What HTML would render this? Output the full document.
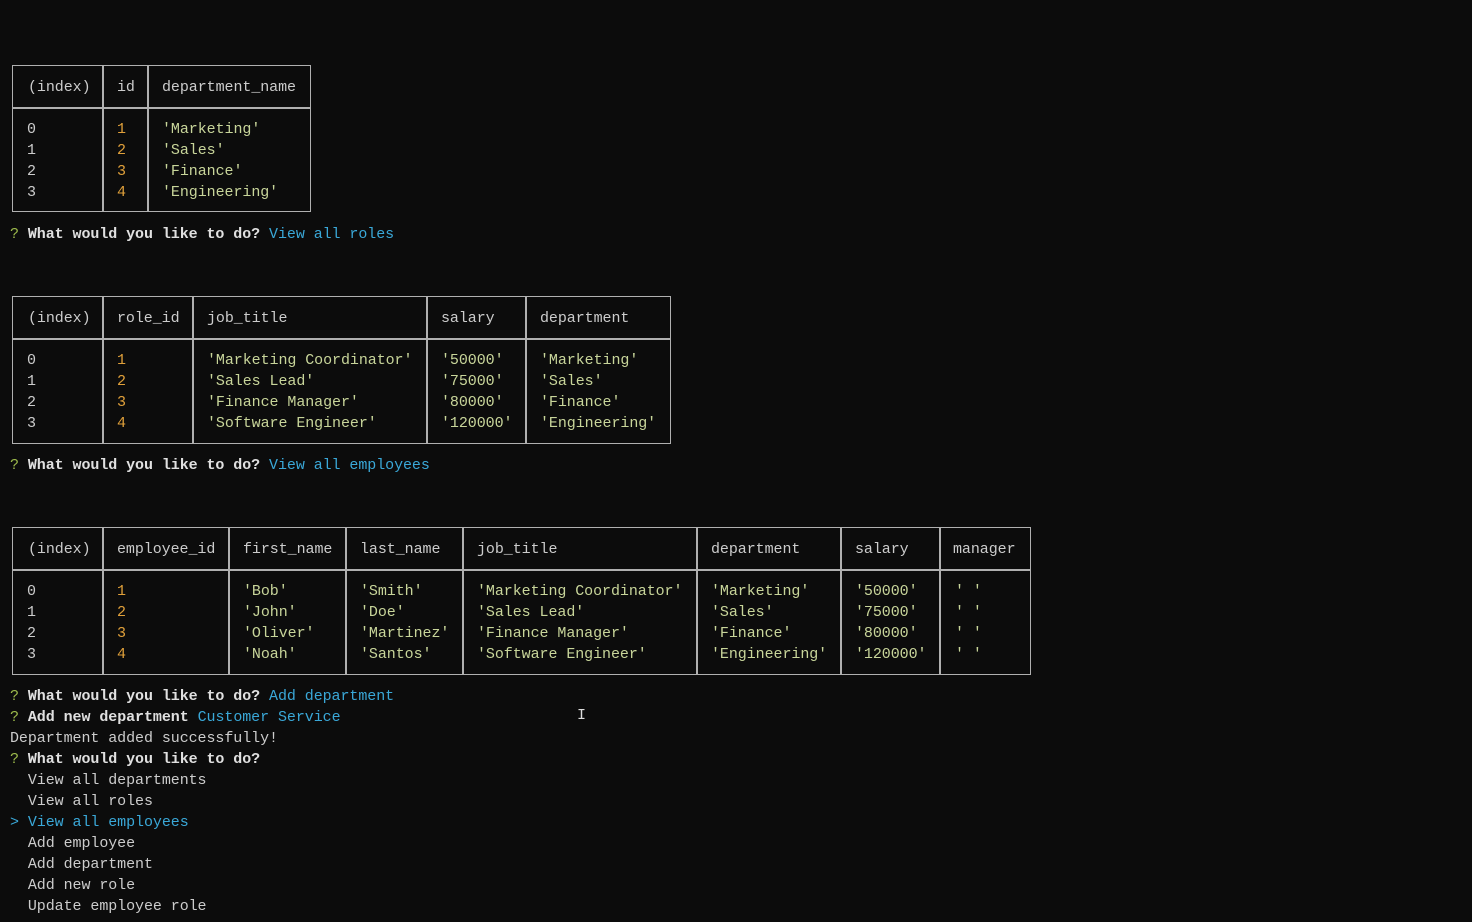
<!DOCTYPE html>
<html><head><meta charset="utf-8"><style>
body{margin:0;width:1472px;height:922px;background:#0c0c0c;overflow:hidden;position:relative;font-family:"Liberation Mono",monospace;font-size:15px;color:#cccccc}
.t{position:absolute;white-space:pre;line-height:21px;margin-top:1px;letter-spacing:-0.07px}
.b{position:absolute;border:1.5px solid #b0b0b0;box-sizing:border-box}
.v{position:absolute;width:1.5px;background:#b0b0b0}
.h{position:absolute;height:1.5px;background:#b0b0b0}
.s{color:#c8d59a}.n{color:#e0a03a}.c{color:#3aa8d8}.q{color:#9dbb4c}.w{font-weight:bold;color:#e0e0e0}
</style></head><body>

<div class="b" style="left:12px;top:65px;width:299px;height:147px"></div>
<div class="h" style="left:12px;top:107px;width:299px"></div>
<div class="v" style="left:102px;top:65px;height:147px"></div>
<div class="v" style="left:147px;top:65px;height:147px"></div>
<div class="t" style="left:28px;top:76px">(index)</div>
<div class="t" style="left:117px;top:76px">id</div>
<div class="t" style="left:162px;top:76px">department_name</div>
<div class="t" style="left:27px;top:118px">0
1
2
3</div>
<div class="t n" style="left:117px;top:118px">1
2
3
4</div>
<div class="t s" style="left:162px;top:118px">'Marketing'
'Sales'
'Finance'
'Engineering'</div>
<div class="t" style="left:10px;top:223px"><span class="q">?</span> <span class="w">What would you like to do?</span> <span class="c">View all roles</span></div>

<div class="b" style="left:12px;top:296px;width:659px;height:148px"></div>
<div class="h" style="left:12px;top:338px;width:659px"></div>
<div class="v" style="left:102px;top:296px;height:148px"></div>
<div class="v" style="left:192px;top:296px;height:148px"></div>
<div class="v" style="left:426px;top:296px;height:148px"></div>
<div class="v" style="left:525px;top:296px;height:148px"></div>
<div class="t" style="left:28px;top:307px">(index)</div>
<div class="t" style="left:117px;top:307px">role_id</div>
<div class="t" style="left:207px;top:307px">job_title</div>
<div class="t" style="left:441px;top:307px">salary</div>
<div class="t" style="left:540px;top:307px">department</div>
<div class="t" style="left:27px;top:349px">0
1
2
3</div>
<div class="t n" style="left:117px;top:349px">1
2
3
4</div>
<div class="t s" style="left:207px;top:349px">'Marketing Coordinator'
'Sales Lead'
'Finance Manager'
'Software Engineer'</div>
<div class="t s" style="left:441px;top:349px">'50000'
'75000'
'80000'
'120000'</div>
<div class="t s" style="left:540px;top:349px">'Marketing'
'Sales'
'Finance'
'Engineering'</div>
<div class="t" style="left:10px;top:454px"><span class="q">?</span> <span class="w">What would you like to do?</span> <span class="c">View all employees</span></div>

<div class="b" style="left:12px;top:527px;width:1019px;height:148px"></div>
<div class="h" style="left:12px;top:569px;width:1019px"></div>
<div class="v" style="left:102px;top:527px;height:148px"></div>
<div class="v" style="left:228px;top:527px;height:148px"></div>
<div class="v" style="left:345px;top:527px;height:148px"></div>
<div class="v" style="left:462px;top:527px;height:148px"></div>
<div class="v" style="left:696px;top:527px;height:148px"></div>
<div class="v" style="left:840px;top:527px;height:148px"></div>
<div class="v" style="left:939px;top:527px;height:148px"></div>
<div class="t" style="left:28px;top:538px">(index)</div>
<div class="t" style="left:117px;top:538px">employee_id</div>
<div class="t" style="left:243px;top:538px">first_name</div>
<div class="t" style="left:360px;top:538px">last_name</div>
<div class="t" style="left:477px;top:538px">job_title</div>
<div class="t" style="left:711px;top:538px">department</div>
<div class="t" style="left:855px;top:538px">salary</div>
<div class="t" style="left:953px;top:538px">manager</div>
<div class="t" style="left:27px;top:580px">0
1
2
3</div>
<div class="t n" style="left:117px;top:580px">1
2
3
4</div>
<div class="t s" style="left:243px;top:580px">'Bob'
'John'
'Oliver'
'Noah'</div>
<div class="t s" style="left:360px;top:580px">'Smith'
'Doe'
'Martinez'
'Santos'</div>
<div class="t s" style="left:477px;top:580px">'Marketing Coordinator'
'Sales Lead'
'Finance Manager'
'Software Engineer'</div>
<div class="t s" style="left:711px;top:580px">'Marketing'
'Sales'
'Finance'
'Engineering'</div>
<div class="t s" style="left:855px;top:580px">'50000'
'75000'
'80000'
'120000'</div>
<div class="t s" style="left:955px;top:580px">' '
' '
' '
' '</div>

<div class="t" style="left:10px;top:685px"><span class="q">?</span> <span class="w">What would you like to do?</span> <span class="c">Add department</span>
<span class="q">?</span> <span class="w">Add new department</span> <span class="c">Customer Service</span>
Department added successfully!
<span class="q">?</span> <span class="w">What would you like to do?</span>
  View all departments
  View all roles
<span class="c">&gt; View all employees</span>
  Add employee
  Add department
  Add new role
  Update employee role</div>
<div class="t" style="left:577px;top:704px;color:#ddd">I</div>
</body></html>
